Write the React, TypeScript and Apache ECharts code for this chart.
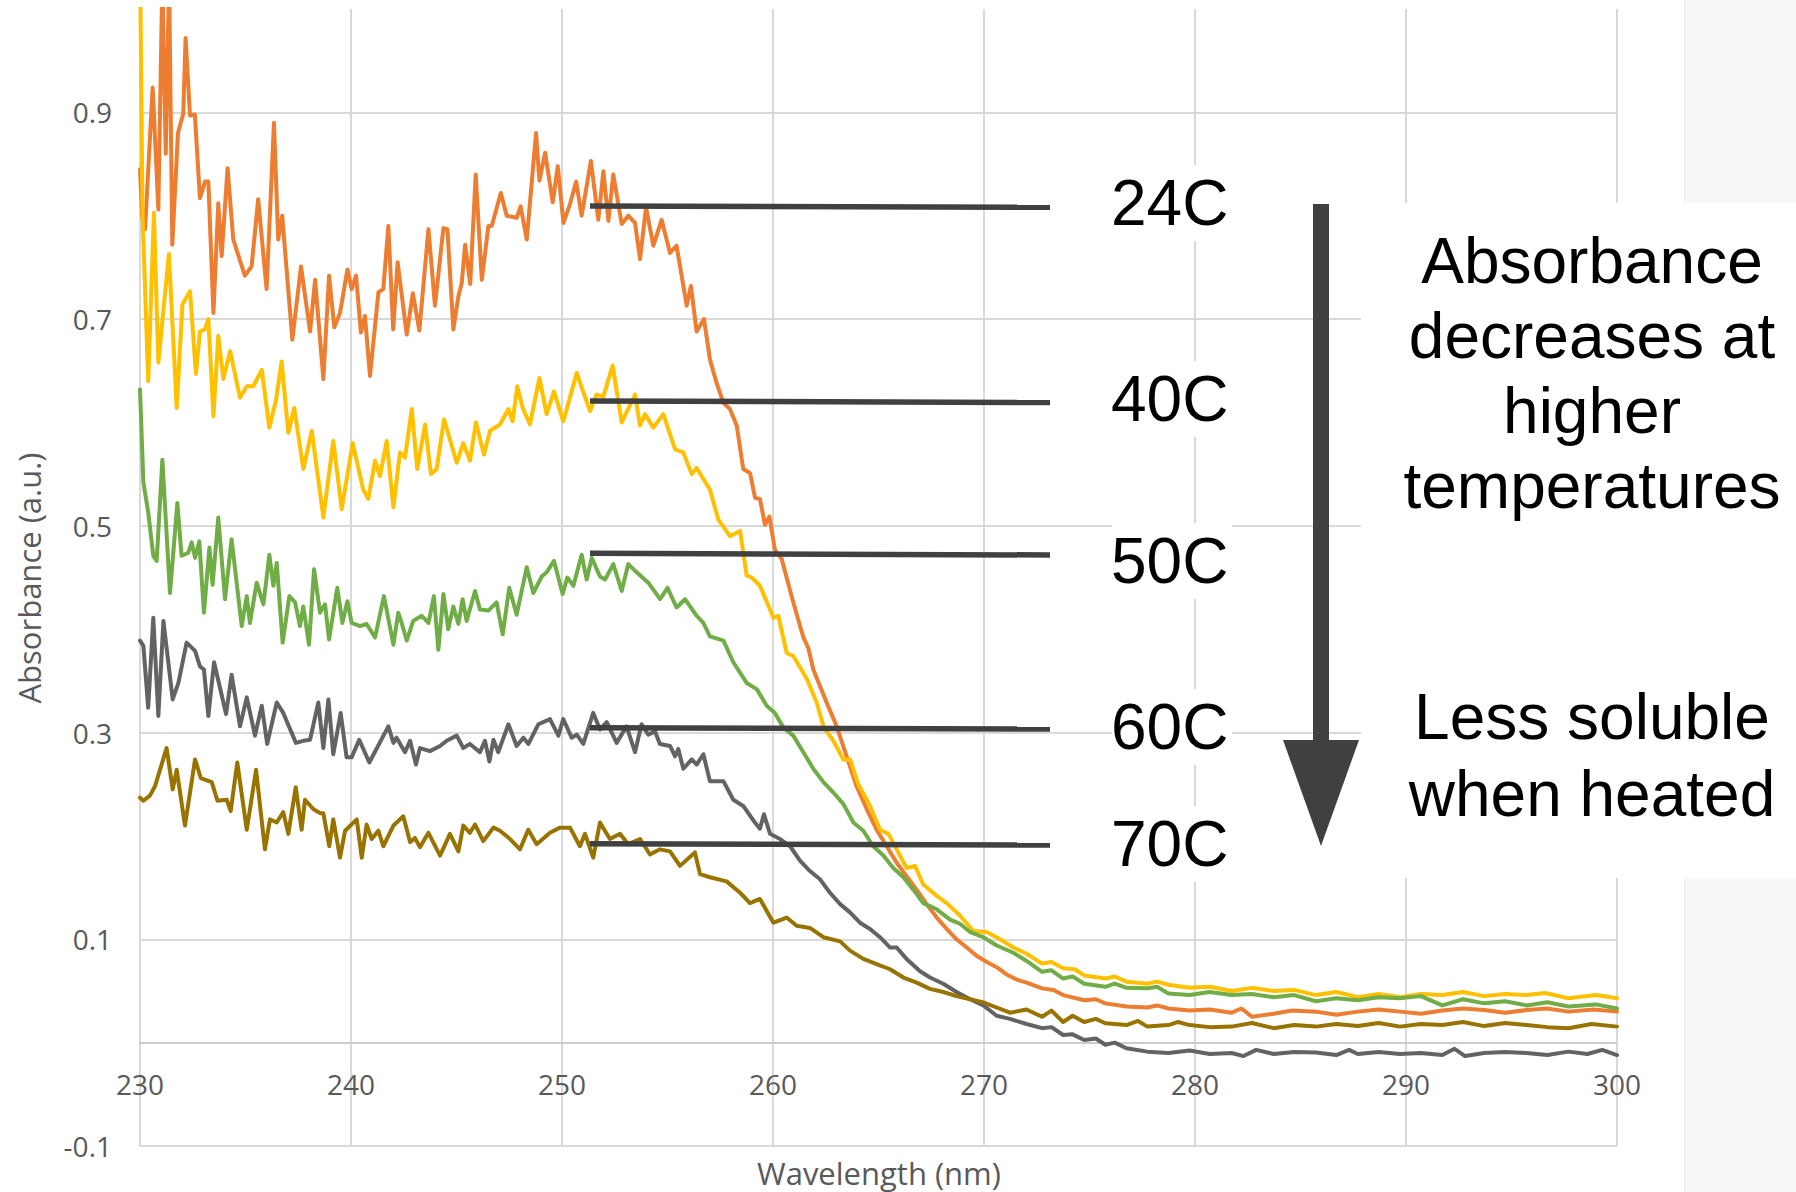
import React, { useEffect, useRef } from "react";
import * as echarts from "echarts";

// ---- axis ticks ----
const xMin = 230;
const xMax = 300;
const xInterval = 10;
const yMin = -0.1;
const yMax = 1.0;
const yTickValues = [-0.1, 0.1, 0.3, 0.5, 0.7, 0.9];
const xCrossValue = 0; // horizontal axis crosses the vertical axis at 0

// ---- series ----
const seriesNames = ["24C", "40C", "50C", "60C", "70C"];
const seriesColors = ["#ED7D31", "#FFC000", "#70AD47", "#636363", "#997300"];

// [wavelength nm, absorbance]
const abs24C: [number, number][] = [
  [230.0, 0.845], [230.1, 0.8], [230.24, 0.787], [230.6, 0.924], [230.87, 0.806], [231.06, 1.03], [231.22, 0.86],
  [231.38, 1.03], [231.53, 0.772], [231.8, 0.88], [232.05, 0.899], [232.16, 0.972], [232.37, 0.897], [232.6, 0.898],
  [232.84, 0.817], [233.08, 0.833], [233.24, 0.833], [233.48, 0.706], [233.71, 0.812], [233.87, 0.761], [234.15, 0.846],
  [234.42, 0.777], [234.97, 0.742], [235.29, 0.751], [235.6, 0.816], [236.0, 0.729], [236.35, 0.89], [236.55, 0.777],
  [236.74, 0.8], [237.22, 0.68], [237.63, 0.751], [238.06, 0.688], [238.3, 0.738], [238.69, 0.642], [238.96, 0.742],
  [239.21, 0.692], [239.48, 0.706], [239.83, 0.748], [240.03, 0.729], [240.24, 0.742], [240.47, 0.687], [240.66, 0.703],
  [240.9, 0.645], [241.3, 0.726], [241.53, 0.729], [241.77, 0.79], [242.0, 0.69], [242.21, 0.755], [242.64, 0.685],
  [242.93, 0.725], [243.24, 0.689], [243.67, 0.787], [243.98, 0.713], [244.38, 0.788], [244.57, 0.787], [244.85, 0.69],
  [245.09, 0.722], [245.25, 0.735], [245.41, 0.772], [245.65, 0.734], [245.91, 0.84], [246.2, 0.738], [246.51, 0.79],
  [246.67, 0.79], [247.1, 0.822], [247.38, 0.8], [247.85, 0.798], [248.04, 0.809], [248.33, 0.777], [248.77, 0.88],
  [248.93, 0.834], [249.2, 0.861], [249.56, 0.813], [249.8, 0.848], [250.07, 0.793], [250.39, 0.812], [250.67, 0.833],
  [250.93, 0.8], [251.37, 0.853], [251.72, 0.796], [251.96, 0.843], [252.2, 0.795], [252.43, 0.84], [252.83, 0.792],
  [253.14, 0.8], [253.46, 0.793], [253.7, 0.758], [253.98, 0.808], [254.33, 0.771], [254.72, 0.796], [255.12, 0.764],
  [255.43, 0.771], [255.91, 0.713], [256.11, 0.732], [256.38, 0.688], [256.73, 0.7], [257.01, 0.661], [257.33, 0.638],
  [257.65, 0.619], [257.96, 0.613], [258.28, 0.597], [258.59, 0.555], [258.91, 0.551], [259.15, 0.527], [259.38, 0.526],
  [259.62, 0.501], [259.83, 0.509], [260.09, 0.477], [260.41, 0.468], [260.96, 0.426], [261.44, 0.392], [261.67, 0.382],
  [261.91, 0.361], [262.54, 0.329], [263.02, 0.306], [263.49, 0.277], [263.96, 0.248], [264.44, 0.226], [264.91, 0.206],
  [265.39, 0.19], [265.86, 0.174], [266.33, 0.161], [266.81, 0.148], [267.28, 0.134], [267.76, 0.121], [268.23, 0.11],
  [268.7, 0.1], [269.18, 0.092], [269.65, 0.084], [270.13, 0.078], [270.6, 0.073], [271.07, 0.066], [271.55, 0.061],
  [272.02, 0.058], [272.75, 0.0525], [273.3, 0.051], [273.75, 0.046], [274.75, 0.041], [275.3, 0.042], [275.75, 0.038],
  [276.75, 0.035], [277.74, 0.034], [278.2, 0.036], [278.74, 0.033], [279.74, 0.031], [280.7, 0.032], [281.74, 0.029],
  [282.2, 0.033], [282.7, 0.025], [283.73, 0.028], [284.6, 0.031], [285.73, 0.03], [286.7, 0.027], [287.72, 0.03],
  [288.7, 0.032], [289.72, 0.03], [290.7, 0.028], [291.72, 0.031], [292.7, 0.033], [293.71, 0.0315], [294.7, 0.029],
  [295.71, 0.0315], [296.7, 0.033], [297.7, 0.03], [298.9, 0.032], [300.0, 0.03],
];

const abs40C: [number, number][] = [
  [230.0, 1.05], [230.12, 0.8], [230.39, 0.64], [230.66, 0.803], [230.87, 0.658], [231.37, 0.763], [231.74, 0.614],
  [232.01, 0.714], [232.37, 0.727], [232.65, 0.647], [232.84, 0.688], [233.08, 0.69], [233.24, 0.7], [233.48, 0.606],
  [233.71, 0.684], [233.95, 0.642], [234.27, 0.669], [234.74, 0.624], [235.06, 0.635], [235.37, 0.635], [235.77, 0.651],
  [236.13, 0.595], [236.45, 0.622], [236.71, 0.659], [237.03, 0.59], [237.31, 0.614], [237.74, 0.555], [238.14, 0.592],
  [238.69, 0.508], [239.16, 0.582], [239.56, 0.516], [240.08, 0.58], [240.58, 0.535], [240.82, 0.526], [241.14, 0.563],
  [241.37, 0.548], [241.69, 0.582], [242.01, 0.518], [242.32, 0.571], [242.56, 0.566], [242.88, 0.613], [243.14, 0.555],
  [243.51, 0.598], [243.79, 0.55], [244.06, 0.555], [244.41, 0.603], [245.01, 0.561], [245.32, 0.58], [245.64, 0.563],
  [245.92, 0.6], [246.3, 0.569], [246.59, 0.592], [247.06, 0.598], [247.46, 0.613], [247.66, 0.601], [247.88, 0.635],
  [248.14, 0.614], [248.48, 0.598], [248.93, 0.643], [249.27, 0.608], [249.62, 0.63], [250.06, 0.601], [250.7, 0.648],
  [250.93, 0.634], [251.33, 0.611], [251.64, 0.627], [251.96, 0.625], [252.4, 0.655], [252.83, 0.6], [253.46, 0.627],
  [253.7, 0.597], [253.93, 0.608], [254.33, 0.595], [254.8, 0.608], [255.36, 0.574], [255.75, 0.571], [256.15, 0.55],
  [256.38, 0.556], [257.01, 0.535], [257.41, 0.506], [257.96, 0.49], [258.44, 0.495], [258.75, 0.452], [258.99, 0.45],
  [259.38, 0.442], [260.02, 0.411], [260.25, 0.413], [260.65, 0.377], [260.96, 0.374], [261.6, 0.352], [262.07, 0.329],
  [262.39, 0.306], [262.86, 0.292], [263.33, 0.274], [263.65, 0.274], [264.04, 0.25], [264.6, 0.229], [265.07, 0.206],
  [265.47, 0.202], [265.86, 0.187], [266.33, 0.169], [266.73, 0.171], [267.12, 0.153], [267.76, 0.142], [268.23, 0.135],
  [268.86, 0.123], [269.49, 0.108], [270.13, 0.107], [270.76, 0.1], [271.39, 0.092], [272.02, 0.086], [272.75, 0.0765],
  [273.2, 0.078], [273.75, 0.072], [274.3, 0.071], [274.75, 0.065], [275.75, 0.062], [276.2, 0.064], [276.75, 0.059],
  [277.74, 0.057], [278.2, 0.059], [278.74, 0.056], [279.74, 0.053], [280.7, 0.054], [281.74, 0.05], [282.7, 0.053],
  [283.73, 0.05], [284.7, 0.051], [285.73, 0.046], [286.7, 0.049], [287.72, 0.044], [288.7, 0.047], [289.72, 0.044],
  [290.7, 0.047], [291.72, 0.046], [292.7, 0.049], [293.71, 0.045], [294.7, 0.047], [295.71, 0.046], [296.6, 0.048],
  [297.7, 0.043], [299.0, 0.046], [300.0, 0.043],
];

const abs50C: [number, number][] = [
  [230.0, 0.632], [230.16, 0.542], [230.39, 0.513], [230.63, 0.471], [230.79, 0.466], [231.06, 0.564], [231.42, 0.435],
  [231.77, 0.522], [231.97, 0.471], [232.29, 0.474], [232.45, 0.484], [232.61, 0.469], [232.81, 0.485], [233.03, 0.416],
  [233.29, 0.479], [233.44, 0.443], [233.71, 0.508], [234.03, 0.429], [234.34, 0.487], [234.82, 0.403], [235.06, 0.432],
  [235.21, 0.406], [235.53, 0.445], [235.85, 0.424], [236.13, 0.472], [236.32, 0.442], [236.48, 0.464], [236.76, 0.387],
  [237.08, 0.432], [237.35, 0.426], [237.58, 0.403], [237.74, 0.422], [238.01, 0.385], [238.25, 0.458], [238.53, 0.416],
  [238.77, 0.424], [238.96, 0.39], [239.35, 0.44], [239.59, 0.406], [239.83, 0.427], [240.03, 0.406], [240.43, 0.403],
  [240.74, 0.405], [241.14, 0.392], [241.56, 0.432], [242.01, 0.385], [242.24, 0.416], [242.4, 0.406], [242.64, 0.389],
  [242.95, 0.408], [243.35, 0.413], [243.67, 0.406], [243.93, 0.432], [244.14, 0.38], [244.38, 0.434], [244.61, 0.4],
  [244.85, 0.422], [245.09, 0.405], [245.29, 0.429], [245.48, 0.408], [245.88, 0.437], [246.11, 0.419], [246.51, 0.418],
  [246.9, 0.426], [247.19, 0.395], [247.5, 0.44], [247.85, 0.414], [248.33, 0.46], [248.64, 0.435], [249.04, 0.451],
  [249.27, 0.455], [249.62, 0.466], [250.03, 0.434], [250.25, 0.45], [250.54, 0.442], [250.93, 0.472], [251.17, 0.448],
  [251.41, 0.469], [251.8, 0.451], [252.04, 0.448], [252.43, 0.463], [252.83, 0.437], [253.14, 0.463], [253.54, 0.455],
  [254.09, 0.445], [254.65, 0.429], [255.0, 0.44], [255.43, 0.421], [255.83, 0.429], [256.38, 0.413], [256.7, 0.406],
  [257.01, 0.393], [257.65, 0.389], [258.12, 0.368], [258.75, 0.348], [259.23, 0.342], [259.7, 0.326], [260.09, 0.319],
  [260.49, 0.305], [260.96, 0.297], [261.44, 0.281], [261.91, 0.265], [262.39, 0.252], [262.86, 0.242], [263.33, 0.231],
  [263.81, 0.213], [264.28, 0.205], [264.75, 0.19], [265.23, 0.181], [265.7, 0.169], [266.18, 0.16], [266.65, 0.148],
  [267.12, 0.135], [267.76, 0.129], [268.39, 0.119], [268.86, 0.115], [269.34, 0.107], [269.97, 0.102], [270.6, 0.094],
  [271.39, 0.087], [272.02, 0.079], [272.75, 0.0685], [273.2, 0.07], [273.75, 0.062], [274.2, 0.064], [274.75, 0.057],
  [275.75, 0.054], [276.2, 0.057], [276.75, 0.053], [277.74, 0.0525], [278.2, 0.054], [278.74, 0.0476], [279.74, 0.046],
  [280.7, 0.049], [281.74, 0.046], [282.7, 0.047], [283.73, 0.044], [284.7, 0.046], [285.73, 0.04], [286.7, 0.043],
  [287.72, 0.041], [288.7, 0.044], [289.72, 0.043], [290.7, 0.045], [291.72, 0.036], [292.7, 0.042], [293.71, 0.038],
  [294.7, 0.04], [295.71, 0.036], [296.7, 0.039], [297.7, 0.035], [299.0, 0.037], [300.0, 0.033],
];

const abs60C: [number, number][] = [
  [230.0, 0.389], [230.16, 0.384], [230.39, 0.324], [230.63, 0.411], [230.87, 0.316], [231.11, 0.408], [231.55, 0.332],
  [231.82, 0.348], [232.21, 0.387], [232.61, 0.379], [232.84, 0.364], [233.03, 0.361], [233.24, 0.316], [233.51, 0.368],
  [234.08, 0.318], [234.34, 0.356], [234.74, 0.306], [235.06, 0.334], [235.45, 0.297], [235.77, 0.326], [236.03, 0.289],
  [236.48, 0.329], [236.79, 0.319], [237.39, 0.29], [237.74, 0.292], [238.06, 0.293], [238.45, 0.329], [238.69, 0.285],
  [238.93, 0.332], [239.16, 0.279], [239.51, 0.319], [239.79, 0.276], [240.03, 0.276], [240.39, 0.293], [240.87, 0.271],
  [241.77, 0.306], [242.01, 0.29], [242.16, 0.295], [242.56, 0.281], [242.8, 0.292], [243.08, 0.269], [243.27, 0.285],
  [243.74, 0.282], [244.22, 0.287], [244.53, 0.292], [245.01, 0.297], [245.32, 0.285], [245.64, 0.289], [246.11, 0.281],
  [246.35, 0.292], [246.56, 0.272], [246.75, 0.293], [246.98, 0.281], [247.46, 0.308], [247.85, 0.287], [248.17, 0.295],
  [248.41, 0.289], [248.88, 0.308], [249.43, 0.313], [249.83, 0.297], [250.06, 0.313], [250.46, 0.295], [250.7, 0.298],
  [251.01, 0.289], [251.48, 0.319], [251.8, 0.303], [252.12, 0.31], [252.59, 0.29], [253.06, 0.306], [253.46, 0.281],
  [253.77, 0.308], [254.09, 0.298], [254.41, 0.301], [254.64, 0.289], [255.12, 0.287], [255.36, 0.277], [255.51, 0.284],
  [255.75, 0.265], [256.15, 0.274], [256.38, 0.269], [256.7, 0.279], [257.01, 0.253], [257.65, 0.253], [258.12, 0.235],
  [258.59, 0.229], [259.07, 0.215], [259.38, 0.207], [259.57, 0.221], [259.86, 0.202], [260.33, 0.197], [260.81, 0.19],
  [261.28, 0.176], [261.75, 0.166], [262.23, 0.158], [262.7, 0.145], [263.18, 0.134], [263.65, 0.126], [264.12, 0.116],
  [264.6, 0.11], [265.07, 0.102], [265.55, 0.092], [265.86, 0.092], [266.33, 0.081], [266.97, 0.069], [267.44, 0.063],
  [268.07, 0.057], [268.7, 0.049], [269.34, 0.042], [269.97, 0.036], [270.6, 0.026], [271.23, 0.023], [272.02, 0.018],
  [272.75, 0.014], [273.2, 0.015], [273.75, 0.0074], [274.2, 0.008], [274.75, 0.0026], [275.3, 0.004], [275.75, -0.002],
  [276.2, 0.0], [276.75, -0.0055], [277.74, -0.0087], [278.74, -0.01], [279.74, -0.0077], [280.7, -0.011],
  [281.74, -0.01], [282.3, -0.013], [282.9, -0.007], [283.73, -0.011], [284.7, -0.009], [285.73, -0.0096],
  [286.7, -0.012], [287.3, -0.007], [287.72, -0.011], [288.7, -0.009], [289.72, -0.011], [290.7, -0.01],
  [291.72, -0.012], [292.3, -0.006], [292.8, -0.013], [293.71, -0.01], [294.7, -0.009], [295.71, -0.01],
  [296.7, -0.012], [297.7, -0.0087], [298.6, -0.011], [299.3, -0.007], [300.0, -0.012],
];

const abs70C: [number, number][] = [
  [230.0, 0.237], [230.16, 0.234], [230.47, 0.239], [230.71, 0.248], [231.26, 0.285], [231.55, 0.245], [231.74, 0.264],
  [232.13, 0.21], [232.61, 0.274], [232.88, 0.256], [233.4, 0.252], [233.67, 0.234], [234.11, 0.235], [234.3, 0.224],
  [234.61, 0.271], [235.06, 0.206], [235.5, 0.264], [235.92, 0.187], [236.16, 0.216], [236.48, 0.213], [236.79, 0.223],
  [237.03, 0.202], [237.38, 0.247], [237.66, 0.206], [237.82, 0.235], [238.21, 0.226], [238.53, 0.222], [238.69, 0.222],
  [238.97, 0.19], [239.16, 0.216], [239.48, 0.179], [239.72, 0.205], [240.27, 0.216], [240.51, 0.179], [240.74, 0.211],
  [240.98, 0.197], [241.3, 0.205], [241.53, 0.19], [242.01, 0.21], [242.48, 0.219], [242.8, 0.194], [243.03, 0.198],
  [243.27, 0.189], [243.67, 0.203], [244.22, 0.181], [244.69, 0.202], [245.09, 0.185], [245.32, 0.21], [245.64, 0.203],
  [245.88, 0.211], [246.27, 0.195], [246.75, 0.208], [247.06, 0.205], [247.54, 0.197], [248.01, 0.187], [248.4, 0.206],
  [248.8, 0.192], [249.43, 0.203], [249.9, 0.208], [250.38, 0.208], [250.85, 0.19], [251.09, 0.202], [251.48, 0.179],
  [251.8, 0.213], [252.27, 0.197], [252.75, 0.202], [253.14, 0.192], [253.7, 0.197], [254.17, 0.182], [254.64, 0.187],
  [255.12, 0.185], [255.59, 0.171], [256.3, 0.184], [256.54, 0.163], [257.01, 0.16], [257.8, 0.156], [258.44, 0.145],
  [258.91, 0.135], [259.38, 0.139], [260.02, 0.116], [260.65, 0.121], [261.12, 0.113], [261.75, 0.111], [262.39, 0.102],
  [263.18, 0.098], [263.65, 0.089], [264.28, 0.081], [264.91, 0.076], [265.55, 0.071], [266.18, 0.063], [266.81, 0.058],
  [267.44, 0.052], [268.07, 0.049], [268.7, 0.045], [269.34, 0.042], [269.97, 0.039], [270.6, 0.034], [271.23, 0.029],
  [272.02, 0.032], [272.75, 0.025], [273.2, 0.031], [273.75, 0.02], [274.2, 0.026], [274.75, 0.02], [275.3, 0.023],
  [275.75, 0.0187], [276.75, 0.017], [277.3, 0.021], [277.74, 0.0155], [278.74, 0.017], [279.2, 0.02], [279.74, 0.017],
  [280.7, 0.015], [281.74, 0.0155], [282.7, 0.019], [283.73, 0.014], [284.7, 0.017], [285.73, 0.0155], [286.7, 0.018],
  [287.72, 0.016], [288.7, 0.019], [289.72, 0.0155], [290.7, 0.018], [291.72, 0.017], [292.7, 0.02], [293.71, 0.016],
  [294.7, 0.019], [295.71, 0.017], [296.7, 0.015], [297.7, 0.014], [298.8, 0.018], [300.0, 0.0155],
];

const seriesData = [abs24C, abs40C, abs50C, abs60C, abs70C];

// ---- annotation texts ----
const xAxisTitle = "Wavelength (nm)";
const yAxisTitle = "Absorbance (a.u.)";
const noteTop = "Absorbance\ndecreases at\nhigher\ntemperatures";
const noteBottom = "Less soluble\nwhen heated";

const AXIS_FONT = '"Open Sans", "DejaVu Sans", sans-serif';
const NOTE_FONT = '"Liberation Sans", Arial, sans-serif';

const GRID = { left: 140, right: 179, top: 9, bottom: 46 };
const CHART_H = 1192;

export default function App() {
  const ref = useRef<HTMLDivElement>(null);

  useEffect(() => {
    if (!ref.current) return;
    const chart = echarts.init(ref.current, null, { renderer: "svg" });

    const gridHeight = CHART_H - GRID.top - GRID.bottom;
    // shift the horizontal axis up so that it sits at y = 0 (Excel "crosses at 0")
    const xAxisOffset = -gridHeight * (xCrossValue - yMin) / (yMax - yMin);

    const labelBoxes = [
      { text: "24C", y: 203, ly1: 206, ly2: 207.3 },
      { text: "40C", y: 399, ly1: 401, ly2: 402.5 },
      { text: "50C", y: 561, ly1: 553.3, ly2: 555 },
      { text: "60C", y: 727, ly1: 727.7, ly2: 729 },
      { text: "70C", y: 844, ly1: 843.7, ly2: 845 },
    ];

    const graphics: any[] = [
      { type: "rect", z: 50, silent: true, shape: { x: 1684, y: 0, width: 112, height: 1192 }, style: { fill: "#f7f7f7" } },
      { type: "line", z: 50, silent: true, shape: { x1: 1684.5, y1: 0, x2: 1684.5, y2: 1192 }, style: { stroke: "#ebebeb", lineWidth: 1 } },
      { type: "rect", z: 60, silent: true, shape: { x: 1361, y: 203, width: 435, height: 675 }, style: { fill: "#ffffff" } },
      {
        type: "text", z: 80, silent: true,
        style: {
          text: noteTop, x: 1592, y: 223, font: `64px ${NOTE_FONT}`, fill: "#000000",
          align: "center", textAlign: "center", verticalAlign: "top", textVerticalAlign: "top", lineHeight: 75,
        },
      },
      {
        type: "text", z: 80, silent: true,
        style: {
          text: noteBottom, x: 1592, y: 678, font: `64px ${NOTE_FONT}`, fill: "#000000",
          align: "center", textAlign: "center", verticalAlign: "top", textVerticalAlign: "top", lineHeight: 77,
        },
      },
      { type: "rect", z: 80, silent: true, shape: { x: 1313, y: 204, width: 16, height: 540 }, style: { fill: "#404040" } },
      { type: "polygon", z: 80, silent: true, shape: { points: [[1283, 740], [1359, 740], [1321, 846]] }, style: { fill: "#404040" } },
      {
        type: "text", z: 20, silent: true, x: 29, y: 578, rotation: Math.PI / 2,
        style: {
          text: yAxisTitle, x: 0, y: 0, font: `31px ${AXIS_FONT}`, fill: "#595959",
          align: "center", textAlign: "center", verticalAlign: "middle", textVerticalAlign: "middle",
        },
      },
      {
        type: "text", z: 20, silent: true,
        style: {
          text: xAxisTitle, x: 879, y: 1173, font: `31px ${AXIS_FONT}`, fill: "#595959",
          align: "center", textAlign: "center", verticalAlign: "middle", textVerticalAlign: "middle",
        },
      },
    ];

    labelBoxes.forEach((b) => {
      graphics.push({
        type: "rect", z: 60, silent: true,
        shape: { x: 1112, y: b.y - 38, width: 120, height: 76 },
        style: { fill: "#ffffff" },
      });
      graphics.push({
        type: "text", z: 80, silent: true,
        style: {
          text: b.text, x: 1111, y: b.y, font: `64px ${NOTE_FONT}`, fill: "#000000",
          align: "left", textAlign: "left", verticalAlign: "middle", textVerticalAlign: "middle",
        },
      });
      graphics.push({
        type: "line", z: 70, silent: true,
        shape: { x1: 590, y1: b.ly1, x2: 1050, y2: b.ly2 },
        style: { stroke: "#404040", lineWidth: 5.5 },
      });
    });

    chart.setOption({
      animation: false,
      backgroundColor: "#ffffff",
      grid: { ...GRID, outerBoundsMode: "none", containLabel: false },
      xAxis: {
        type: "value",
        min: xMin,
        max: xMax,
        interval: xInterval,
        position: "bottom",
        offset: xAxisOffset,
        axisLine: { show: true, onZero: false, lineStyle: { color: "#cccccc", width: 2 } },
        axisTick: { show: false },
        axisLabel: { fontFamily: AXIS_FONT, fontSize: 28, color: "#595959", margin: 27 },
        splitLine: { show: true, lineStyle: { color: "#d9d9d9", width: 2 } },
      },
      yAxis: {
        type: "value",
        min: yMin,
        max: yMax,
        axisLine: { show: false },
        axisTick: { show: false, customValues: yTickValues },
        axisLabel: {
          customValues: yTickValues,
          fontFamily: AXIS_FONT,
          fontSize: 28,
          color: "#595959",
          margin: 28,
          formatter: (v: number) => v.toFixed(1),
        },
        splitLine: { show: true, lineStyle: { color: "#d9d9d9", width: 2 } },
      },
      series: seriesNames.map((name, i) => ({
        name,
        type: "line",
        data: seriesData[i],
        showSymbol: false,
        symbol: "none",
        silent: true,
        clip: true,
        z: 2 + i,
        lineStyle: { color: seriesColors[i], width: 4, join: "round", cap: "round" },
        itemStyle: { color: seriesColors[i] },
      })),
      graphic: graphics,
    });

    return () => chart.dispose();
  }, []);

  return (
    <div
      ref={ref}
      style={{ position: "fixed", left: 0, top: 0, width: 1796, height: CHART_H, background: "#ffffff" }}
    />
  );
}
